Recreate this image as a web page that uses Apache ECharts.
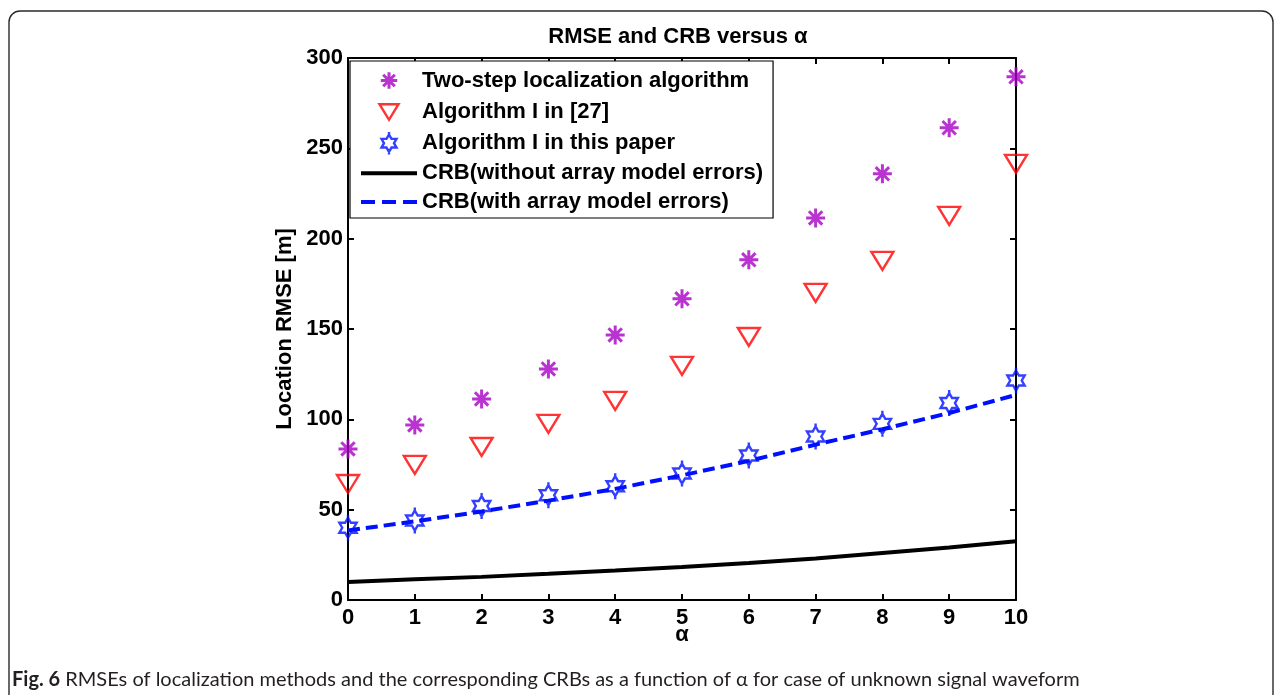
<!DOCTYPE html>
<html>
<head>
<meta charset="utf-8">
<script src="https://cdn.jsdelivr.net/npm/echarts@6/dist/echarts.min.js"></script>
<style>
  html, body { margin: 0; padding: 0; background: #fff; }
  #chart { width: 1281px; height: 695px; }
</style>
</head>
<body>
<div id="chart"></div>
<script>
// alpha values along the x axis
const alphaValues = [0, 1, 2, 3, 4, 5, 6, 7, 8, 9, 10];
// location RMSE [m] of each method
const twoStep      = [83.6, 96.9, 111.3, 127.9, 146.7, 166.7, 188.3, 211.5, 235.9, 261.4, 289.6];
const algRef27     = [64.2, 74.8, 84.7, 97.5, 110.2, 129.6, 145.6, 170.0, 187.7, 212.6, 241.4];
const algThisPaper = [40.0, 44.0, 52.0, 58.0, 63.0, 70.0, 80.0, 90.5, 97.5, 109.0, 121.5];
// Cramer-Rao bounds
const crbWithout   = [10.0, 11.5, 12.8, 14.5, 16.3, 18.3, 20.5, 23.0, 26.0, 29.0, 32.5];
const crbWith      = [38.5, 43.5, 49.0, 55.0, 61.5, 69.0, 77.0, 86.0, 94.5, 103.5, 113.5];

const seriesNames = [
  'Two-step localization algorithm',
  'Algorithm I in [27]',
  'Algorithm I in this paper',
  'CRB(without array model errors)',
  'CRB(with array model errors)'
];
const titleText = 'RMSE and CRB versus \u03b1';
const xName = '\u03b1';
const yName = 'Location RMSE [m]';
const captionBold = 'Fig. 6';
const captionText = ' RMSEs of localization methods and the corresponding CRBs as a function of \u03b1 for case of unknown signal waveform';

const pairs = ys => alphaValues.map((a, i) => [a, ys[i]]);

// Marker outlines share one 30x30 frame so the legend and plot scale them alike
const FRAME = 'M-15,-15M15,15';
const asteriskPath = 'path://' + FRAME +
  'M0,-9.5L0,9.5M-9.5,0L9.5,0M-6.7,-6.7L6.7,6.7M-6.7,6.7L6.7,-6.7';
const triangleDownPath = 'path://' + FRAME + 'M-11,-9L11,-9L0,9Z';
const hexagramPath = 'path://' + FRAME +
  'M0,-10L2.89,-5L8.66,-5L5.77,0L8.66,5L2.89,5L0,10L-2.89,5L-8.66,5L-5.77,0L-8.66,-5L-2.89,-5Z' +
  'M0,-10L0,-13M0,10L0,13';
// Legend swatches for the two bound curves
const solidSwatch = 'path://M0,-2L56,-2L56,2L0,2Z';
const dashedSwatch = 'path://M0,-2h14v4h-14zM21,-2h14v4h-14zM42,-2h14v4h-14z';

const FONT = 'Liberation Sans';
const MAGENTA = '#a600c4';
const RED = '#ff0000';
const BLUE = '#0010ff';

const chart = echarts.init(document.getElementById('chart'), null, { renderer: 'canvas' });

const markerSeries = (name, data, symbol, color, width) => ({
  name, type: 'scatter', data, symbol, symbolSize: 30,
  itemStyle: { color: 'transparent', borderColor: color, borderWidth: width },
  emphasis: { disabled: true }
});

const axisBase = {
  type: 'value',
  axisLine: { show: true, onZero: false, lineStyle: { color: '#000', width: 2 } },
  axisTick: { show: true, inside: true, length: 6, lineStyle: { color: '#000', width: 2 } },
  splitLine: { show: false }
};
const labelStyle = { color: '#000', fontFamily: FONT, fontWeight: 'bold', fontSize: 22 };

const option = {
  animation: false,
  backgroundColor: '#fff',
  grid: { left: 348, right: 265, top: 58, bottom: 95, containLabel: false },
  xAxis: [
    Object.assign({}, axisBase, {
      position: 'bottom', min: 0, max: 10, interval: 1,
      axisLabel: Object.assign({ margin: 7 }, labelStyle),
      name: xName, nameLocation: 'middle', nameGap: 24, nameMoveOverlap: false,
      nameTextStyle: Object.assign({}, labelStyle)
    }),
    Object.assign({}, axisBase, {
      position: 'top', min: 0, max: 10, interval: 1,
      axisLabel: { show: false }
    })
  ],
  yAxis: [
    Object.assign({}, axisBase, {
      position: 'left', min: 0, max: 300, interval: 50,
      axisLabel: Object.assign({ margin: 5 }, labelStyle),
      name: yName, nameLocation: 'middle', nameGap: 52, nameMoveOverlap: false,
      nameTextStyle: Object.assign({}, labelStyle)
    }),
    Object.assign({}, axisBase, {
      position: 'right', min: 0, max: 300, interval: 50,
      axisLabel: { show: false }
    })
  ],
  legend: {
    orient: 'vertical',
    left: 350, top: 61,
    padding: [5, 10, 3, 11],
    itemWidth: 56, itemHeight: 26, itemGap: 2.8,
    backgroundColor: '#fff',
    borderColor: '#000', borderWidth: 1.2,
    selectedMode: false,
    textStyle: { color: '#000', fontFamily: FONT, fontWeight: 'bold', fontSize: 22, lineHeight: 26 },
    data: [
      { name: seriesNames[0], itemStyle: { color: 'transparent', borderColor: MAGENTA, borderWidth: 3 } },
      { name: seriesNames[1], itemStyle: { color: 'transparent', borderColor: RED, borderWidth: 2.4 } },
      { name: seriesNames[2], itemStyle: { color: 'transparent', borderColor: BLUE, borderWidth: 2.4 } },
      { name: seriesNames[3], icon: solidSwatch, itemStyle: { color: '#000', borderWidth: 0 } },
      { name: seriesNames[4], icon: dashedSwatch, itemStyle: { color: BLUE, borderWidth: 0 } }
    ]
  },
  graphic: [
    {
      type: 'rect', silent: true, z: -10,
      shape: { x: 9, y: 11, width: 1264, height: 700, r: 11 },
      style: { fill: 'none', stroke: '#2a2a2a', lineWidth: 1.4 }
    },
    {
      type: 'text', x: 678, y: 37, silent: true,
      style: {
        text: titleText, fill: '#000', align: 'center', verticalAlign: 'middle',
        font: 'bold 22px "Liberation Sans"'
      }
    },
    {
      type: 'text', x: 12, y: 680, silent: true,
      style: {
        text: '{b|' + captionBold + '}{n|' + captionText + '}',
        verticalAlign: 'middle', align: 'left',
        rich: {
          b: { fill: '#231f20', fontFamily: 'Lato', fontWeight: 'bold', fontSize: 20 },
          n: { fill: '#231f20', fontFamily: 'Lato', fontWeight: 'normal', fontSize: 20 }
        }
      }
    }
  ],
  series: [
    markerSeries(seriesNames[0], pairs(twoStep), asteriskPath, MAGENTA, 3),
    markerSeries(seriesNames[1], pairs(algRef27), triangleDownPath, RED, 2.4),
    markerSeries(seriesNames[2], pairs(algThisPaper), hexagramPath, BLUE, 2.4),
    {
      name: seriesNames[3], type: 'line', data: pairs(crbWithout),
      symbol: 'none', smooth: false, color: '#000',
      lineStyle: { color: '#000', width: 4 },
      emphasis: { disabled: true }
    },
    {
      name: seriesNames[4], type: 'line', data: pairs(crbWith),
      symbol: 'none', smooth: false, color: BLUE,
      lineStyle: { color: BLUE, width: 4, type: [12, 6] },
      emphasis: { disabled: true }
    }
  ]
};

chart.setOption(option);
</script>
</body>
</html>
